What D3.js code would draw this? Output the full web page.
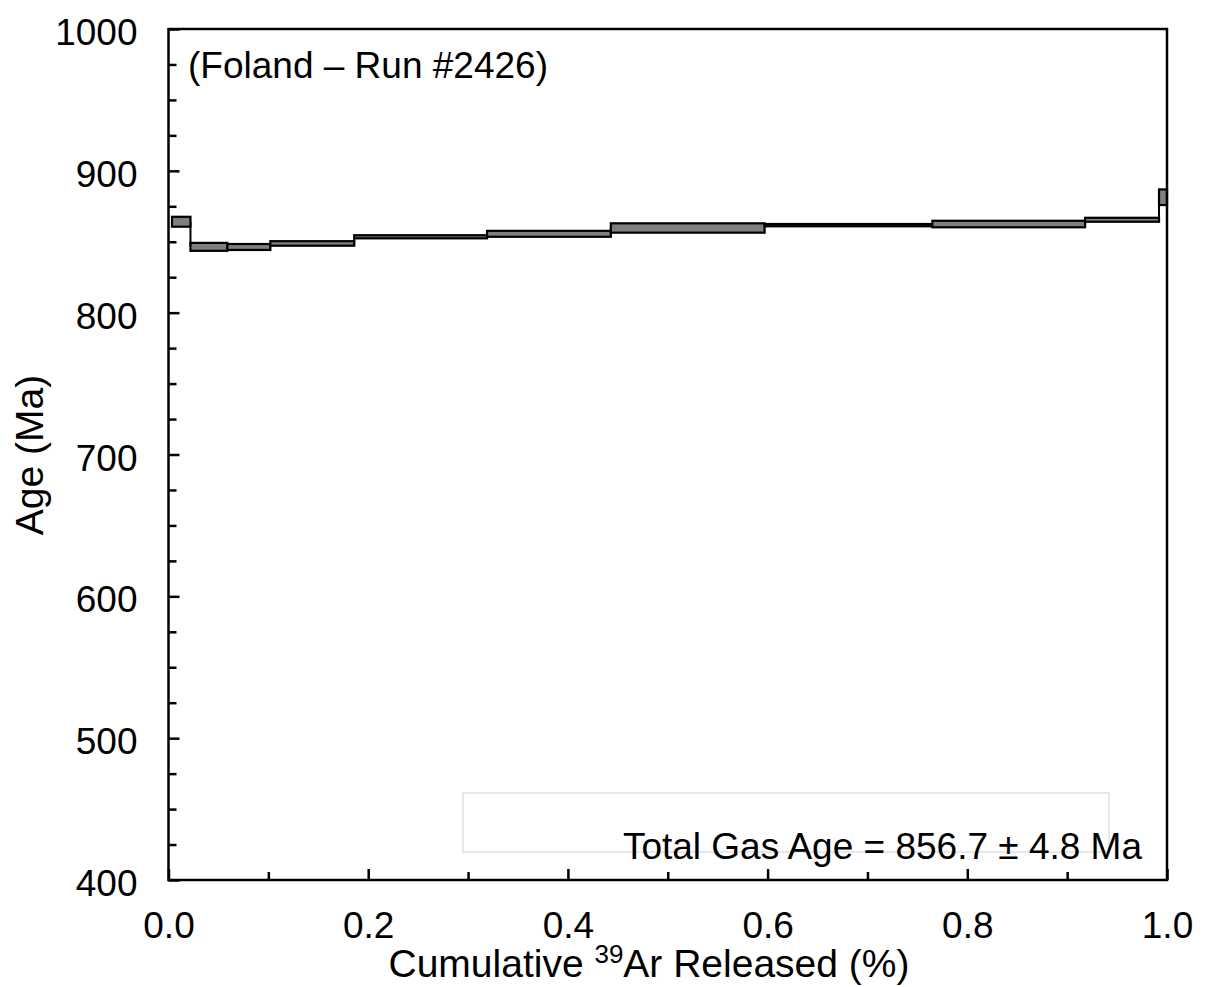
<!DOCTYPE html>
<html>
<head>
<meta charset="utf-8">
<script src="https://cdn.jsdelivr.net/npm/d3@7"></script>
<style>
  body { margin: 0; background: #fff; font-family: "Liberation Sans", Arial, sans-serif; }
  svg { display: block; }
</style>
</head>
<body>
<svg width="1207" height="987"></svg>
<script>
// step data: cumulative 39Ar start/end fraction, age and 1 sigma (Ma)
const stepStart = [0.0035, 0.022, 0.059, 0.102, 0.186, 0.319, 0.443, 0.597, 0.765, 0.918, 0.992];
const stepEnd   = [0.022, 0.059, 0.102, 0.186, 0.319, 0.443, 0.597, 0.765, 0.918, 0.992, 1.0];
const stepAge   = [864.1, 846.4, 846.3, 848.8, 853.5, 855.6, 859.7, 861.7, 862.5, 865.5, 881.4];
const stepErr   = [3.5, 2.8, 2.1, 1.6, 1.1, 2.1, 3.3, 0.8, 2.3, 1.4, 5.5];

const xMajor = [0, 0.2, 0.4, 0.6, 0.8, 1.0];
const xMinor = [0.1, 0.3, 0.5, 0.7, 0.9];
const yMajor = [400, 500, 600, 700, 800, 900, 1000];

const label = "(Foland \u2013 Run #2426)";
const totalGas = "Total Gas Age = 856.7 \u00b1 4.8 Ma";

{
  const svg = d3.select("svg");
  const pL = 168.5, pR = 1167, pT = 29, pB = 880;

  const x = d3.scaleLinear().domain([0, 1]).range([pL, pR]);
  const y = d3.scaleLinear().domain([400, 1000]).range([pB, pT]);

  const yMinor = d3.range(400, 1001, 25).filter(v => v % 100 != 0);

  const steps = stepStart.map((s, i) => ({
    x0: s, x1: stepEnd[i], age: stepAge[i], err: stepErr[i]
  }));

  // total gas age box
  svg.append("rect")
    .attr("x", 463).attr("y", 793).attr("width", 646).attr("height", 59)
    .attr("fill", "none").attr("stroke", "#d0d0d0").attr("stroke-width", 1);

  // axes, ticks inward
  const fontSize = 37;
  const xAxis = svg.append("g").attr("transform", `translate(0,${pB})`)
    .call(d3.axisBottom(x).tickValues(xMajor).tickFormat(d3.format(".1f"))
      .tickSize(-11).tickPadding(32));
  const xAxisMinor = svg.append("g").attr("transform", `translate(0,${pB})`)
    .call(d3.axisBottom(x).tickValues(xMinor).tickFormat("").tickSize(-8));
  const yAxis = svg.append("g").attr("transform", `translate(${pL},0)`)
    .call(d3.axisLeft(y).tickValues(yMajor).tickFormat(d3.format("d"))
      .tickSize(-11).tickPadding(31));
  const yAxisMinor = svg.append("g").attr("transform", `translate(${pL},0)`)
    .call(d3.axisLeft(y).tickValues(yMinor).tickFormat("").tickSize(-8));

  [xAxis, xAxisMinor, yAxis, yAxisMinor].forEach(a => {
    a.select(".domain").remove();
    a.selectAll("line").attr("stroke", "#000").attr("stroke-width", 2.5);
    a.selectAll("text").attr("fill", "#000")
      .style("font-family", "'Liberation Sans', Arial, sans-serif")
      .style("font-size", fontSize + "px");
  });
  yAxis.selectAll("text").attr("dy", "0.42em");

  // connectors between steps
  const conn = [];
  for (let i = 1; i < steps.length; i++) {
    conn.push({ x: steps[i].x0, a: steps[i - 1].age, b: steps[i].age });
  }
  svg.append("g").selectAll("line").data(conn).join("line")
    .attr("x1", d => x(d.x)).attr("x2", d => x(d.x))
    .attr("y1", d => y(d.a)).attr("y2", d => y(d.b))
    .attr("stroke", "#000").attr("stroke-width", 2);

  // step boxes
  svg.append("g").selectAll("rect").data(steps).join("rect")
    .attr("x", d => x(d.x0))
    .attr("y", d => y(d.age + d.err))
    .attr("width", d => x(d.x1) - x(d.x0))
    .attr("height", d => y(d.age - d.err) - y(d.age + d.err))
    .attr("fill", "#7f7f7f")
    .attr("stroke", "#000")
    .attr("stroke-width", 2.2);

  // frame
  svg.append("rect")
    .attr("x", pL).attr("y", pT)
    .attr("width", pR - pL).attr("height", pB - pT)
    .attr("fill", "none").attr("stroke", "#000").attr("stroke-width", 2.5);

  // texts
  svg.append("text")
    .attr("x", 188).attr("y", 78)
    .style("font-size", "37px")
    .text(label);

  svg.append("text")
    .attr("x", 1142).attr("y", 859)
    .attr("text-anchor", "end")
    .style("font-size", "37px")
    .text(totalGas);

  const xt = svg.append("text")
    .attr("x", 649).attr("y", 977)
    .attr("text-anchor", "middle")
    .style("font-size", "39px");
  xt.append("tspan").text("Cumulative ");
  xt.append("tspan").attr("dy", -14).style("font-size", "26px").text("39");
  xt.append("tspan").attr("dy", 14).text("Ar Released (%)");

  svg.append("text")
    .attr("transform", "translate(43,455) rotate(-90)")
    .attr("text-anchor", "middle")
    .style("font-size", "39px")
    .text("Age (Ma)");
}
</script>
</body>
</html>
